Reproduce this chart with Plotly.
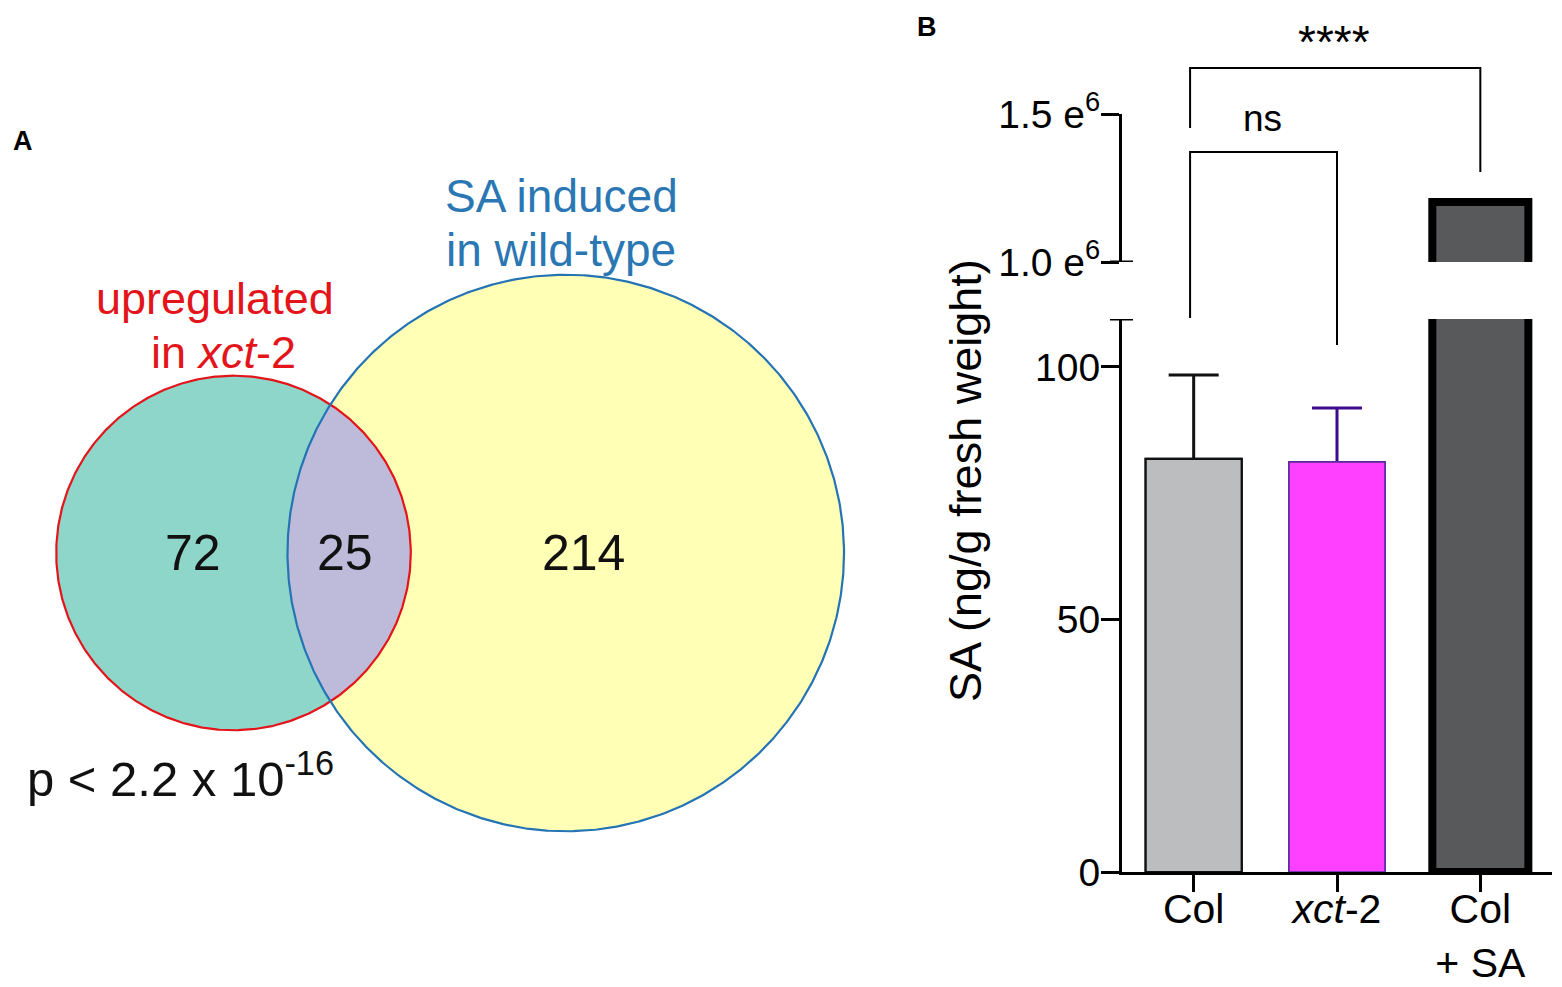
import numpy as np
import plotly.graph_objects as go

W, H = 1562, 987

# ---------------- data ----------------
# Venn diagram (gene counts)
venn_only_xct = 72
venn_both = 25
venn_only_sa = 214
venn_set_labels = ["upregulated", "in <i>xct</i>-2", "SA induced", "in wild-type"]
venn_pvalue = "p < 2.2 x 10<sup>-16</sup>"

# Bar chart (SA, ng/g fresh weight)
categories = ["Col", "<i>xct</i>-2", "Col<br>+ SA"]
sa_means = [81.8, 81.2, 1.203e6]
sa_err_plus = [16.6, 10.7, 0.0]
lower_tickvals = [0, 50, 100]
lower_ticktext = ["0", "50", "100"]
upper_tickvals = [1.0e6, 1.5e6]
upper_ticktext = ["1.0 e<sup>6</sup>", "1.5 e<sup>6</sup>"]
comparisons = [(0, 1, "ns"), (0, 2, "****")]

# ---------------- styles ----------------
FONT = "Liberation Sans, Arial, sans-serif"
bar_fill = ["#BCBDBF", "#FF40FF", "#58595B"]
bar_line_color = ["#111111", "#5B2A9B", "#000000"]
bar_line_width = [2.2, 1.6, 8]
err_color = ["#111111", "#3D0B8C", "#000000"]


def px(x):
    return x / W


def py(y):
    return 1 - y / H


fig = go.Figure()

# ---------------- Venn (area proportional) ----------------
k = 18.0  # px per sqrt(count)
n1 = venn_only_xct + venn_both
n2 = venn_only_sa + venn_both
r1 = k * np.sqrt(n1)
r2 = k * np.sqrt(n2)
target = np.pi * k * k * venn_both


def lens_area(d):
    a1 = np.arccos(np.clip((d * d + r1 * r1 - r2 * r2) / (2 * d * r1), -1, 1))
    a2 = np.arccos(np.clip((d * d + r2 * r2 - r1 * r1) / (2 * d * r2), -1, 1))
    s = (-d + r1 + r2) * (d + r1 - r2) * (d - r1 + r2) * (d + r1 + r2)
    return r1 * r1 * a1 + r2 * r2 * a2 - 0.5 * np.sqrt(max(s, 0))


lo, hi = abs(r2 - r1) + 1e-6, r1 + r2 - 1e-6
for _ in range(200):
    mid = 0.5 * (lo + hi)
    if lens_area(mid) > target:
        lo = mid
    else:
        hi = mid
d = 0.5 * (lo + hi)

c1x, cy = 233.5, 553.0
c2x = c1x + d

t = np.linspace(0, 2 * np.pi, 721)
x1c, y1c = c1x + r1 * np.cos(t), cy + r1 * np.sin(t)
x2c, y2c = c2x + r2 * np.cos(t), cy + r2 * np.sin(t)

a = (d * d + r1 * r1 - r2 * r2) / (2 * d)
h = np.sqrt(r1 * r1 - a * a)
al1 = np.arctan2(h, a)
al2 = np.arctan2(h, d - a)
ta = np.linspace(-al1, al1, 200)
tb = np.linspace(np.pi - al2, np.pi + al2, 200)
lx = np.concatenate([c1x + r1 * np.cos(ta), c2x + r2 * np.cos(tb)])
ly = np.concatenate([cy + r1 * np.sin(ta), cy + r2 * np.sin(tb)])

venn_ax = dict(xaxis="x3", yaxis="y3", hoverinfo="skip", showlegend=False)
fig.add_trace(go.Scatter(x=x1c, y=y1c, fill="toself", fillcolor="#8FD6CA",
                         mode="lines", line=dict(width=0), **venn_ax))
fig.add_trace(go.Scatter(x=x2c, y=y2c, fill="toself", fillcolor="#FFFFB5",
                         mode="lines", line=dict(width=0), **venn_ax))
fig.add_trace(go.Scatter(x=lx, y=ly, fill="toself", fillcolor="#BEBBDA",
                         mode="lines", line=dict(width=0), **venn_ax))
fig.add_trace(go.Scatter(x=x1c, y=y1c, mode="lines",
                         line=dict(width=2.2, color="#E3151B"), **venn_ax))
fig.add_trace(go.Scatter(x=x2c, y=y2c, mode="lines",
                         line=dict(width=2.2, color="#2474B5"), **venn_ax))

# ---------------- Bars ----------------
for i, cat in enumerate(categories):
    bar_marker = dict(color=bar_fill[i],
                      line=dict(color=bar_line_color[i], width=bar_line_width[i]))
    if sa_err_plus[i] > 0:
        # bar carrying a symmetric error bar; the lower half is hidden by the bar drawn on top
        fig.add_trace(go.Bar(
            x=[i], y=[sa_means[i]], width=0.67, marker=bar_marker,
            error_y=dict(type="data", array=[sa_err_plus[i]], color=err_color[i],
                         thickness=3, width=25),
            xaxis="x", yaxis="y", showlegend=False, hoverinfo="skip"))
    fig.add_trace(go.Bar(
        x=[i], y=[sa_means[i]], width=0.67, marker=bar_marker,
        xaxis="x", yaxis="y", showlegend=False, hoverinfo="skip"))
    if sa_means[i] > upper_tickvals[0]:
        fig.add_trace(go.Bar(
            x=[i], y=[sa_means[i]], width=0.67, marker=bar_marker,
            xaxis="x", yaxis="y2", showlegend=False, hoverinfo="skip"))

axis_common = dict(showgrid=False, zeroline=False, showline=True, linecolor="#000",
                   linewidth=3, ticks="outside", ticklen=18, tickwidth=3,
                   tickcolor="#000", automargin=False, ticklabelstandoff=-7,
                   tickfont=dict(family=FONT, size=39, color="#000"))

lower_top = 109.5
fig.update_layout(
    template="none",
    width=W, height=H, margin=dict(l=0, r=0, t=0, b=0, pad=0), autosize=False,
    paper_bgcolor="white", plot_bgcolor="rgba(0,0,0,0)",
    barmode="overlay", showlegend=False,
    font=dict(family=FONT, color="#000"),
    xaxis=dict(domain=[px(1122), px(1552)], range=[-0.5, 2.5], anchor="y",
               tickmode="array", tickvals=list(range(len(categories))), ticktext=categories,
               **{**axis_common, "tickfont": dict(family=FONT, size=41, color="#000"),
                  "ticklen": 17, "ticklabelstandoff": -18}),
    yaxis=dict(domain=[py(872), py(319)], range=[0, lower_top], anchor="x",
               tickmode="array", tickvals=lower_tickvals, ticktext=lower_ticktext,
               **axis_common),
    yaxis2=dict(domain=[py(262), py(114)], range=[upper_tickvals[0], upper_tickvals[1]],
                anchor="x", tickmode="array", tickvals=upper_tickvals,
                ticktext=upper_ticktext, **axis_common),
    xaxis3=dict(domain=[0, 0.58], range=[0, 0.58 * W], visible=False, anchor="y3",
                automargin=False),
    yaxis3=dict(domain=[0, 1], range=[H, 0], visible=False, anchor="x3",
                automargin=False),
)

shapes = []
# caps crossing the broken axis
shapes.append(dict(type="line", xref="paper", yref="y", x0=px(1110), x1=px(1133),
                   y0=lower_top, y1=lower_top, line=dict(color="#000", width=3)))
shapes.append(dict(type="line", xref="paper", yref="y2", x0=px(1110), x1=px(1133),
                   y0=upper_tickvals[0], y1=upper_tickvals[0], line=dict(color="#000", width=3)))

# significance brackets
bracket_pos = {
    "ns": dict(top=py(152), left=py(318), right=py(345), label=py(118), size=37),
    "****": dict(top=py(68), left=py(128), right=py(172), label=py(42), size=46),
}
annotations = []


def note(text, x, y, size, color="#000", xref="paper", **kw):
    d = dict(text=text, xref=xref, yref="paper", x=x, y=y, showarrow=False,
             xanchor="center", yanchor="middle",
             font=dict(size=size, color=color, family=FONT))
    d.update(kw)
    annotations.append(d)


for (i0, i1, lab) in comparisons:
    b = bracket_pos[lab]
    shapes.append(dict(type="path", xref="x", yref="paper",
                       path=f"M {i0 - 0.025},{b['left']} L {i0 - 0.025},{b['top']} "
                            f"L {i1},{b['top']} L {i1},{b['right']}",
                       line=dict(color="#000", width=2)))
    note(lab, (i0 + i1) / 2 - 0.02, b["label"], b["size"], xref="x")

# y-axis title
note("SA (ng/g fresh weight)", px(965), py(481), 45, textangle=-90)

# panel letters
note("<b>A</b>", px(23), py(141), 27)
note("<b>B</b>", px(927), py(27), 27)

# Venn set labels
venn_label_pos = [(215, 298, "#E3151B", 45), (223, 352, "#E3151B", 45),
                  (561, 196, "#2A77B4", 46), (561, 250, "#2A77B4", 46)]
for txt, (x, y, c, s) in zip(venn_set_labels, venn_label_pos):
    note(txt, px(x), py(y), s, color=c)

# Venn counts
venn_counts = [venn_only_xct, venn_both, venn_only_sa]
count_pos = [(193, 553), (345, 553), (583, 553)]
for n, (x, y) in zip(venn_counts, count_pos):
    note(str(n), px(x), py(y), 50, color="#111")

note(venn_pvalue, px(25), py(775), 49, color="#111", xanchor="left")

fig.update_layout(shapes=shapes, annotations=annotations)
fig.write_html("out.html", config={"displayModeBar": False},
               post_script="document.body.style.margin='0px';")
